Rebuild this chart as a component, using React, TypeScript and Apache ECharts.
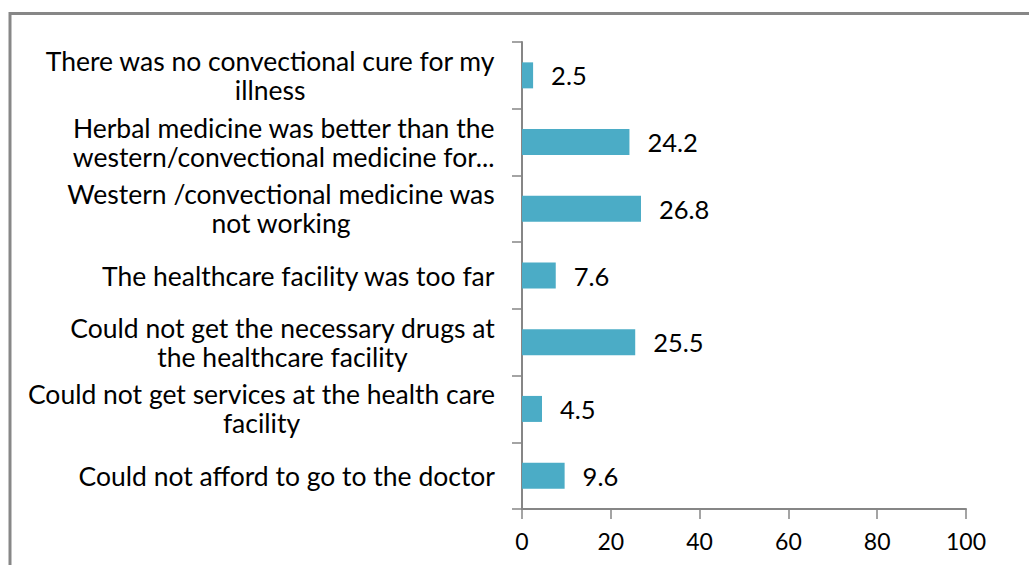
import React, { useEffect, useRef } from "react";
import * as echarts from "echarts";

const categories: string[] = [
  "There was no convectional cure for my\nillness",
  "Herbal medicine was better than the\nwestern/convectional medicine for...",
  "Western /convectional medicine was\nnot working",
  "The healthcare facility was too far",
  "Could not get the necessary drugs at\nthe healthcare facility",
  "Could not get services at the health care\nfacility",
  "Could not afford to go to the doctor",
];
const values: number[] = [2.5, 24.2, 26.8, 7.6, 25.5, 4.5, 9.6];
const xTicks = { min: 0, max: 100, interval: 20 };

const FONT = "Lato";

export default function App() {
  const ref = useRef<HTMLDivElement>(null);
  useEffect(() => {
    if (!ref.current) return;
    const chart = echarts.init(ref.current, undefined, { renderer: "svg" });
    chart.setOption({
      animation: false,
      backgroundColor: "#ffffff",
      grid: { left: 522, right: 63, top: 42, bottom: 56, containLabel: false },
      graphic: [
        {
          type: "line",
          shape: { x1: 9, y1: 13.5, x2: 1029, y2: 13.5 },
          style: { stroke: "#878787", lineWidth: 3 },
          silent: true,
        },
        {
          type: "line",
          shape: { x1: 10, y1: 12, x2: 10, y2: 565 },
          style: { stroke: "#878787", lineWidth: 3 },
          silent: true,
        },
      ],
      xAxis: {
        type: "value",
        min: xTicks.min,
        max: xTicks.max,
        interval: xTicks.interval,
        splitLine: { show: false },
        axisLine: { show: true, lineStyle: { color: "#868686", width: 2 } },
        axisTick: { show: true, length: 10, lineStyle: { color: "#868686", width: 1.5 } },
        axisLabel: {
          margin: 20,
          color: "#000",
          fontFamily: FONT,
          fontSize: 23,
        },
      },
      yAxis: {
        type: "category",
        data: categories,
        inverse: true,
        axisLine: { show: true, lineStyle: { color: "#868686", width: 2 } },
        axisTick: { show: true, length: 10, lineStyle: { color: "#868686", width: 1.5 } },
        axisLabel: {
          margin: 27,
          align: "right",
          color: "#000",
          fontFamily: FONT,
          fontSize: 26.5,
          lineHeight: 29,
          formatter: (v: string) =>
            v
              .split("\n")
              .map((l) => "{c|" + l + "}")
              .join("\n"),
          rich: {
            c: {
              align: "center",
              color: "#000",
              fontFamily: FONT,
              fontSize: 26.5,
              lineHeight: 29,
            },
          },
        },
      },
      series: [
        {
          type: "bar",
          data: values,
          barWidth: 26,
          itemStyle: { color: "#4BACC6" },
          label: {
            show: true,
            position: "right",
            distance: 18,
            color: "#000",
            fontFamily: FONT,
            fontSize: 25.5,
          },
        },
      ],
    });
    return () => chart.dispose();
  }, []);
  return (
    <div
      ref={ref}
      style={{ position: "fixed", left: 0, top: 0, width: 1029, height: 565 }}
    />
  );
}
